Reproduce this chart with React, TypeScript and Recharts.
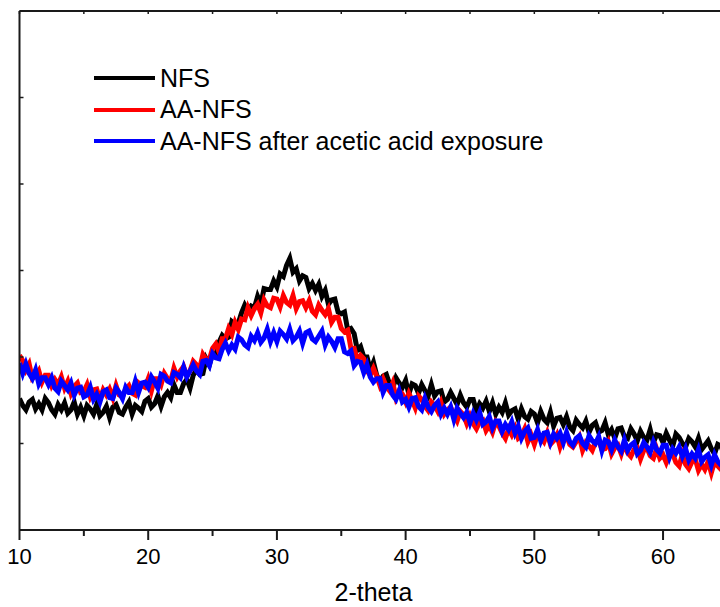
import React from 'react';
import { LineChart, Line, XAxis, YAxis, Legend } from 'recharts';

const theta = [
  10, 10.25, 10.5, 10.75, 11, 11.25, 11.5, 11.75, 12, 12.25, 12.5, 12.75,
  13, 13.25, 13.5, 13.75, 14, 14.25, 14.5, 14.75, 15, 15.25, 15.5, 15.75,
  16, 16.25, 16.5, 16.75, 17, 17.25, 17.5, 17.75, 18, 18.25, 18.5, 18.75,
  19, 19.25, 19.5, 19.75, 20, 20.25, 20.5, 20.75, 21, 21.25, 21.5, 21.75,
  22, 22.25, 22.5, 22.75, 23, 23.25, 23.5, 23.75, 24, 24.25, 24.5, 24.75,
  25, 25.25, 25.5, 25.75, 26, 26.25, 26.5, 26.75, 27, 27.25, 27.5, 27.75,
  28, 28.25, 28.5, 28.75, 29, 29.25, 29.5, 29.75, 30, 30.25, 30.5, 30.75,
  31, 31.25, 31.5, 31.75, 32, 32.25, 32.5, 32.75, 33, 33.25, 33.5, 33.75,
  34, 34.25, 34.5, 34.75, 35, 35.25, 35.5, 35.75, 36, 36.25, 36.5, 36.75,
  37, 37.25, 37.5, 37.75, 38, 38.25, 38.5, 38.75, 39, 39.25, 39.5, 39.75,
  40, 40.25, 40.5, 40.75, 41, 41.25, 41.5, 41.75, 42, 42.25, 42.5, 42.75,
  43, 43.25, 43.5, 43.75, 44, 44.25, 44.5, 44.75, 45, 45.25, 45.5, 45.75,
  46, 46.25, 46.5, 46.75, 47, 47.25, 47.5, 47.75, 48, 48.25, 48.5, 48.75,
  49, 49.25, 49.5, 49.75, 50, 50.25, 50.5, 50.75, 51, 51.25, 51.5, 51.75,
  52, 52.25, 52.5, 52.75, 53, 53.25, 53.5, 53.75, 54, 54.25, 54.5, 54.75,
  55, 55.25, 55.5, 55.75, 56, 56.25, 56.5, 56.75, 57, 57.25, 57.5, 57.75,
  58, 58.25, 58.5, 58.75, 59, 59.25, 59.5, 59.75, 60, 60.25, 60.5, 60.75,
  61, 61.25, 61.5, 61.75, 62, 62.25, 62.5, 62.75, 63, 63.25, 63.5, 63.75,
  64, 64.25, 64.5, 64.75, 65,
];

const nfs = [
  1.52, 1.44, 1.39, 1.48, 1.51, 1.40, 1.46, 1.39, 1.52, 1.47, 1.39, 1.34,
  1.45, 1.39, 1.47, 1.35, 1.39, 1.48, 1.34, 1.42, 1.32, 1.44, 1.40, 1.34,
  1.45, 1.32, 1.36, 1.43, 1.30, 1.42, 1.45, 1.36, 1.34, 1.42, 1.48, 1.34,
  1.44, 1.41, 1.37, 1.49, 1.52, 1.42, 1.46, 1.55, 1.43, 1.54, 1.59, 1.53,
  1.68, 1.59, 1.59, 1.69, 1.74, 1.64, 1.79, 1.85, 1.80, 1.81, 1.98, 1.91,
  2.04, 2.02, 2.17, 2.25, 2.21, 2.23, 2.41, 2.38, 2.39, 2.51, 2.60, 2.53,
  2.59, 2.57, 2.70, 2.61, 2.79, 2.78, 2.78, 2.88, 2.81, 2.96, 2.93, 3.06,
  3.14, 2.98, 3.02, 2.88, 2.94, 2.92, 2.79, 2.85, 2.77, 2.84, 2.70, 2.77,
  2.61, 2.66, 2.67, 2.52, 2.50, 2.52, 2.31, 2.33, 2.27, 2.08, 2.12, 2.00,
  2.00, 1.85, 1.94, 1.79, 1.72, 1.78, 1.80, 1.69, 1.64, 1.76, 1.70, 1.65,
  1.73, 1.57, 1.69, 1.67, 1.58, 1.68, 1.61, 1.55, 1.68, 1.55, 1.60, 1.61,
  1.48, 1.51, 1.59, 1.52, 1.45, 1.56, 1.47, 1.42, 1.51, 1.51, 1.37, 1.46,
  1.41, 1.49, 1.37, 1.47, 1.34, 1.42, 1.36, 1.47, 1.33, 1.38, 1.40, 1.28,
  1.40, 1.31, 1.28, 1.37, 1.34, 1.24, 1.37, 1.28, 1.24, 1.36, 1.20, 1.29,
  1.30, 1.22, 1.31, 1.19, 1.15, 1.27, 1.22, 1.18, 1.26, 1.13, 1.21, 1.24,
  1.13, 1.15, 1.24, 1.10, 1.16, 1.06, 1.17, 1.18, 1.08, 1.06, 1.17, 1.11,
  1.03, 1.14, 1.07, 1.04, 1.16, 1.01, 1.10, 1.09, 1.01, 1.12, 1.04, 0.97,
  1.11, 1.07, 1.00, 0.96, 1.06, 1.02, 0.96, 1.06, 0.93, 0.98, 1.03, 0.94,
  0.88, 0.99, 0.97, 0.87, 0.96,
];

const aaNfs = [
  2.02, 1.96, 1.85, 1.92, 1.75, 1.78, 1.84, 1.71, 1.79, 1.79, 1.67, 1.74,
  1.68, 1.77, 1.64, 1.72, 1.58, 1.66, 1.70, 1.59, 1.60, 1.68, 1.54, 1.62,
  1.63, 1.51, 1.62, 1.56, 1.63, 1.53, 1.67, 1.56, 1.54, 1.63, 1.67, 1.58,
  1.56, 1.70, 1.67, 1.65, 1.75, 1.61, 1.75, 1.75, 1.68, 1.81, 1.75, 1.72,
  1.87, 1.77, 1.84, 1.89, 1.78, 1.84, 1.95, 1.91, 1.87, 2.03, 1.97, 1.97,
  2.10, 2.15, 2.06, 2.21, 2.21, 2.33, 2.26, 2.40, 2.32, 2.44, 2.43, 2.57,
  2.48, 2.56, 2.61, 2.51, 2.66, 2.59, 2.57, 2.68, 2.67, 2.58, 2.71, 2.63,
  2.60, 2.71, 2.56, 2.64, 2.65, 2.57, 2.65, 2.53, 2.49, 2.60, 2.54, 2.49,
  2.56, 2.40, 2.46, 2.46, 2.33, 2.29, 2.31, 2.10, 2.10, 1.96, 2.02, 1.98,
  1.84, 1.79, 1.87, 1.78, 1.67, 1.75, 1.66, 1.61, 1.70, 1.53, 1.61, 1.57,
  1.48, 1.58, 1.50, 1.41, 1.55, 1.51, 1.43, 1.38, 1.48, 1.44, 1.37, 1.47,
  1.34, 1.39, 1.42, 1.33, 1.26, 1.37, 1.33, 1.23, 1.32, 1.23, 1.17, 1.25,
  1.27, 1.15, 1.21, 1.13, 1.25, 1.20, 1.12, 1.06, 1.17, 1.10, 1.18, 1.06,
  1.09, 1.17, 1.02, 1.10, 0.99, 1.11, 1.07, 1.02, 1.12, 0.99, 1.03, 1.10,
  0.96, 1.07, 1.09, 0.99, 0.96, 1.02, 1.08, 0.92, 1.01, 0.97, 0.92, 1.02,
  1.04, 0.93, 0.94, 1.02, 0.88, 0.95, 0.98, 0.88, 1.00, 0.89, 0.85, 0.93,
  0.95, 0.82, 0.92, 0.95, 0.86, 0.83, 0.94, 0.83, 0.87, 0.78, 0.88, 0.88,
  0.78, 0.74, 0.87, 0.76, 0.71, 0.79, 0.82, 0.69, 0.76, 0.70, 0.79, 0.66,
  0.79, 0.74, 0.70, 0.77, 0.75,
];

const aaNfsAcid = [
  1.93, 1.81, 1.92, 1.81, 1.75, 1.85, 1.69, 1.76, 1.76, 1.68, 1.76, 1.64,
  1.60, 1.72, 1.67, 1.62, 1.70, 1.56, 1.64, 1.65, 1.54, 1.56, 1.65, 1.51,
  1.57, 1.48, 1.60, 1.62, 1.53, 1.52, 1.64, 1.59, 1.52, 1.65, 1.59, 1.59,
  1.72, 1.59, 1.70, 1.71, 1.65, 1.77, 1.71, 1.64, 1.80, 1.78, 1.72, 1.70,
  1.82, 1.80, 1.76, 1.88, 1.77, 1.84, 1.91, 1.84, 1.80, 1.95, 1.96, 1.90,
  2.04, 1.99, 1.98, 2.09, 2.16, 2.07, 2.14, 2.09, 2.23, 2.20, 2.14, 2.11,
  2.24, 2.19, 2.28, 2.17, 2.22, 2.32, 2.18, 2.28, 2.18, 2.30, 2.26, 2.21,
  2.32, 2.19, 2.23, 2.30, 2.16, 2.28, 2.30, 2.21, 2.18, 2.24, 2.30, 2.14,
  2.23, 2.18, 2.11, 2.21, 2.21, 2.06, 2.04, 2.07, 1.90, 1.95, 1.94, 1.82,
  1.91, 1.77, 1.71, 1.75, 1.75, 1.59, 1.67, 1.67, 1.56, 1.51, 1.61, 1.48,
  1.51, 1.42, 1.52, 1.53, 1.43, 1.39, 1.52, 1.42, 1.37, 1.44, 1.48, 1.34,
  1.41, 1.34, 1.42, 1.28, 1.41, 1.35, 1.30, 1.36, 1.24, 1.35, 1.27, 1.36,
  1.22, 1.25, 1.31, 1.18, 1.26, 1.26, 1.14, 1.22, 1.16, 1.25, 1.12, 1.20,
  1.06, 1.14, 1.18, 1.06, 1.07, 1.16, 1.03, 1.12, 1.13, 1.01, 1.11, 1.06,
  1.12, 1.01, 1.13, 1.02, 0.98, 1.06, 1.09, 1.00, 0.96, 1.09, 1.03, 1.00,
  1.08, 0.92, 1.04, 1.02, 0.93, 1.04, 0.96, 0.91, 1.04, 0.92, 0.98, 1.01,
  0.88, 0.92, 1.01, 0.96, 0.90, 1.02, 0.93, 0.89, 0.98, 0.98, 0.84, 0.94,
  0.89, 0.96, 0.85, 0.94, 0.81, 0.88, 0.83, 0.93, 0.79, 0.84, 0.87, 0.75,
  0.87, 0.79, 0.75, 0.85, 0.81,
];

const xTicks = [10, 15, 20, 25, 30, 35, 40, 45, 50, 55, 60, 65];
const xLabelTicks = [10, 20, 30, 40, 50, 60];
const yTicks = [0, 1, 2, 3, 4, 5, 6];
const seriesNames = ['NFS', 'AA-NFS', 'AA-NFS after acetic acid exposure'];
const seriesColors = ['#000000', '#ff0000', '#0000ff'];
const xTitle = '2-theta';

const data = theta.map((t, i) => ({
  theta: t,
  nfs: nfs[i],
  aa: aaNfs[i],
  aae: aaNfsAcid[i],
}));

const FONT = '"Liberation Sans", Arial, Helvetica, sans-serif';
const AXIS = '#1a1a1a';

const BottomTick = (props: any) => {
  const { x, y, payload } = props;
  const major = xLabelTicks.includes(payload.value);
  return (
    <g>
      <line x1={x} x2={x} y1={y} y2={y + (major ? 10 : 6)} stroke={AXIS} strokeWidth={2} />
      {major && (
        <text x={x} y={y + 34} textAnchor="middle" fontSize={22} fontFamily={FONT} fill="#000">
          {payload.value}
        </text>
      )}
    </g>
  );
};

const TopTick = (props: any) => {
  const { x, y } = props;
  return <line x1={x} x2={x} y1={y} y2={y + 3} stroke={AXIS} strokeWidth={1.5} />;
};

const LeftTick = (props: any) => {
  const { x, y } = props;
  return <line x1={x} x2={x + 4} y1={y} y2={y} stroke={AXIS} strokeWidth={1.5} />;
};

const LegendContent = (props: any) => {
  const payload = [...(props.payload || [])].sort(
    (a: any, b: any) => seriesNames.indexOf(a.value) - seriesNames.indexOf(b.value)
  );
  return (
    <div style={{ fontFamily: FONT, fontSize: 25, color: '#000' }}>
      {payload.map((p: any, i: number) => (
        <div key={i} style={{ display: 'flex', alignItems: 'center', height: 31.5, lineHeight: '31.5px', whiteSpace: 'nowrap' }}>
          <span style={{ display: 'inline-block', width: 61, height: 4, background: p.color, marginRight: 5 }} />
          <span>{p.value}</span>
        </div>
      ))}
    </div>
  );
};

export default function App() {
  return (
    <div style={{ position: 'absolute', left: 0, top: 0, width: 720, height: 607, overflow: 'hidden', background: '#fff', fontFamily: FONT }}>
      <LineChart
        width={740}
        height={607}
        data={data}
        margin={{ top: 10, right: 12.6, left: 18.5, bottom: 0 }}
      >
        <XAxis
          dataKey="theta"
          type="number"
          domain={[10, 65]}
          ticks={xTicks}
          allowDataOverflow
          height={77}
          axisLine={{ stroke: AXIS, strokeWidth: 2 }}
          tickLine={false}
          tickSize={0}
          tickMargin={0}
          interval={0}
          tick={(p: any) => <BottomTick {...p} />}
          label={{ value: xTitle, position: 'insideBottom', offset: 6, style: { fontSize: 25, fill: '#000', fontFamily: FONT } }}
        />
        <XAxis
          xAxisId="top"
          dataKey="theta"
          type="number"
          orientation="top"
          domain={[10, 65]}
          ticks={xTicks}
          allowDataOverflow
          height={1}
          axisLine={{ stroke: AXIS, strokeWidth: 2 }}
          tickLine={false}
          tickSize={0}
          tickMargin={0}
          interval={0}
          tick={(p: any) => <TopTick {...p} />}
        />
        <YAxis
          type="number"
          domain={[0, 6]}
          ticks={yTicks}
          width={1}
          axisLine={{ stroke: AXIS, strokeWidth: 2 }}
          tickLine={false}
          tickSize={0}
          tickMargin={0}
          interval={0}
          tick={(p: any) => <LeftTick {...p} />}
        />
        <Legend
          layout="vertical"
          align="center"
          verticalAlign="middle"
          content={(p: any) => <LegendContent {...p} />}
          wrapperStyle={{ position: 'absolute', left: 94, top: 62.6, width: 'auto', height: 'auto' }}
        />
        <Line type="linear" dataKey="nfs" name={seriesNames[0]} stroke={seriesColors[0]} strokeWidth={5} dot={false} isAnimationActive={false} />
        <Line type="linear" dataKey="aa" name={seriesNames[1]} stroke={seriesColors[1]} strokeWidth={5} dot={false} isAnimationActive={false} />
        <Line type="linear" dataKey="aae" name={seriesNames[2]} stroke={seriesColors[2]} strokeWidth={5} dot={false} isAnimationActive={false} />
      </LineChart>
    </div>
  );
}
